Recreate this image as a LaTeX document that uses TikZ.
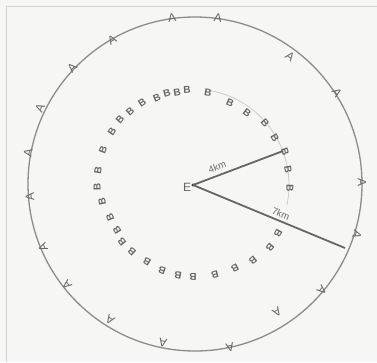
\documentclass[tikz,border=0pt]{standalone}
\usepackage{fontspec}
\setmainfont{Liberation Sans}
\usetikzlibrary{calc}
\definecolor{paper}{HTML}{F6F6F4}
\definecolor{ink}{HTML}{666666}
\definecolor{pen}{HTML}{8C8C8C}
\tikzset{
  ring/.style={draw=pen, line width=1.3pt},
  faintring/.style={draw=pen!45, line width=0.8pt},
  radius line/.style={draw=ink, line width=1.8pt},
  outerletter/.style={text=ink, font=\fontsize{12}{12}\selectfont, inner sep=0pt},
  innerletter/.style={text=ink, font=\bfseries\fontsize{10}{10}\selectfont, inner sep=0pt},
  distlabel/.style={text=ink, font=\fontsize{9.5}{9.5}\selectfont, inner sep=0pt},
}
\begin{document}
\begin{tikzpicture}[x=1pt,y=-1pt]
\fill[paper] (0,0) rectangle (377,362);
\useasboundingbox (0,0) rectangle (377,362);
\draw[pen!40, line width=0.6pt] (6,362) -- (6,6) -- (377,6);
\coordinate (c) at (195,184);
\coordinate (ctr) at (193,185);
% outer circle
\draw[ring] (c) circle[radius=167pt];
% faint inner arc
\draw[faintring] ($(ctr)+(80:96pt)$) arc[start angle=80, end angle=-12, radius=96pt];
% outer A letters
\foreach \px/\py [count=\i] in {172/18, 218/18, 290/57, 337/93, 362/182, 357/235, 322/290, 277/312, 230/347, 163/343, 110/320, 67/285, 43/247, 30/197, 28/153, 40/108, 72/68, 112/40}{
  \path let \p1 = ($(\px,\py)-(c)$), \n1 = {atan2(\y1,\x1)} in
    node[outerletter, rotate=\n1-90] (a\i) at (\px,\py) {A};
}
% inner B letters
\foreach \px/\py [count=\i] in {97/187, 98/170, 103/150, 112/132, 120/120, 130/112, 142/103, 157/98, 167/93, 177/92, 187/90, 208/93, 230/103, 247/113, 265/123, 275/138, 285/152, 288/170, 290/188, 278/233, 270/247, 253/260, 235/268, 215/275, 193/277, 178/275, 162/270, 147/262, 132/252, 122/242, 117/230, 110/217, 102/202}{
  \path let \p1 = ($(\px,\py)-(ctr)$), \n1 = {atan2(\y1,\x1)} in
    node[innerletter, rotate=\n1-90] (b\i) at (\px,\py) {B};
}
% centre
\node[text=ink, font=\fontsize{12}{12}\selectfont, inner sep=0pt] (e) at (187,187) {E};
\fill[black!80] (ctr) circle[radius=1.6pt];
% radii
\coordinate (p4) at (283,151);
\coordinate (p7) at (345,248);
\draw[radius line] (ctr) -- (p4) node[distlabel, pos=0.3, above=4pt, sloped] (l4) {4km};
\draw[radius line] (ctr) -- (p7) node[distlabel, pos=0.56, above=3pt, sloped] (l7) {7km};
\end{tikzpicture}
\end{document}
